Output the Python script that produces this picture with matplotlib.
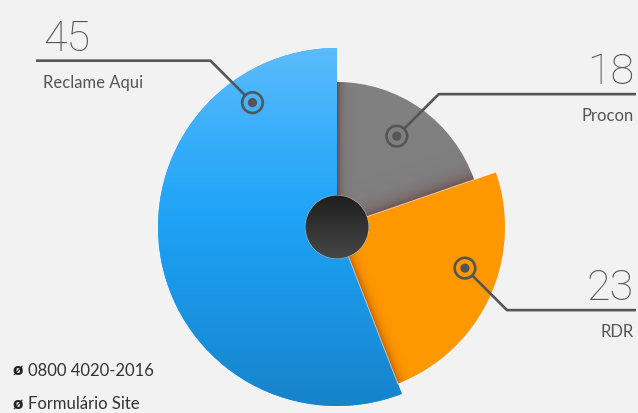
import numpy as np
import matplotlib.pyplot as plt
from matplotlib.patches import Wedge, Circle
from matplotlib.colors import to_rgb

# data (clockwise from 12 o'clock)
labels = ["Procon", "RDR", "Reclame Aqui"]
values = [18, 23, 45]
shares = [19.7, 24.4, 55.9]          # slice sizes, % of circle
footer = ["0800 4020-2016", "Formulário Site"]

# styling
W, H = 638, 413
cx, cy = 337, H - 227
colors = ["#808080", "#ff9800", "#1fa3f8"]
radii = [145, 168, 179]
anchor_frac = [0.47, 0.42, 0.83]      # where the marker sits along the slice
anchor_rad = [0.75, 0.80, 0.84]
ink = "#555555"

plt.rcParams['font.family'] = ['Lato', 'DejaVu Sans']

fig = plt.figure(figsize=(W / 100, H / 100), dpi=100)
fig.patch.set_facecolor("#f2f2f2")
ax = fig.add_axes([0, 0, 1, 1])
ax.set_facecolor("#f2f2f2")


def fill_image(patch, rgba_fn, box, z):
    x0, x1, y0, y1 = box
    X, Y = np.meshgrid(np.arange(x0, x1) + 0.5, np.arange(y0, y1) + 0.5)
    im = ax.imshow(rgba_fn(X, Y), extent=(x0, x1, y0, y1), origin="lower",
                   interpolation="bilinear", aspect="auto", zorder=z)
    im.set_clip_path(patch)


def edge_shade(patch, ang, color, width, alpha, box, z):
    n = np.array([-np.sin(np.radians(ang)), np.cos(np.radians(ang))])

    def fn(X, Y):
        d = np.abs((X - cx) * n[0] + (Y - cy) * n[1])
        out = np.zeros(X.shape + (4,))
        out[..., :3] = to_rgb(color)
        out[..., 3] = alpha * np.exp(-d / width)
        return out
    fill_image(patch, fn, box, z)


def vgrad(stops):
    ys = np.array([H - s[0] for s in stops])[::-1]
    cs = np.array([to_rgb(s[1]) for s in stops])[::-1]

    def fn(X, Y):
        out = np.ones(X.shape + (4,))
        for k in range(3):
            out[..., k] = np.interp(Y, ys, cs[:, k])
        return out
    return fn


start = 90.0
wedges = []
for i, (lab, val, sh) in enumerate(zip(labels, values, shares)):
    span = sh / 100 * 360
    a0, a1 = start, start - span
    w = Wedge((cx, cy), radii[i], a1, a0, facecolor=colors[i], edgecolor="none", zorder=2)
    ax.add_patch(w)
    wedges.append((w, a0, a1))
    start = a1

    # marker and leader
    ma = np.radians(a0 - anchor_frac[i] * span)
    mx = cx + anchor_rad[i] * radii[i] * np.cos(ma)
    my = cy + anchor_rad[i] * radii[i] * np.sin(ma)
    sx = 1 if mx > cx else -1
    sy = 1 if my > cy else -1
    ex, ey = mx + sx * 42, my + sy * 42
    r_ring = 10.3
    ax.plot([mx + sx * r_ring / np.sqrt(2), ex, 636 if sx > 0 else 36],
            [my + sy * r_ring / np.sqrt(2), ey, ey],
            color=ink, lw=1.9, solid_capstyle="butt", zorder=5)
    ax.add_patch(Circle((mx, my), r_ring, fill=False, edgecolor=ink, lw=1.9, zorder=5))
    ax.add_patch(Circle((mx, my), 4.6, facecolor=ink, edgecolor="none", zorder=5))

    tx = 634 if sx > 0 else 43
    ha = "right" if sx > 0 else "left"
    ax.text(tx, ey + 10, str(val), ha=ha, va="baseline", fontsize=31,
            fontweight="light", color=ink, zorder=5, family=["Roboto", "Lato"])
    ax.text(tx, ey - 27, lab, ha=ha, va="baseline", fontsize=12,
            color=ink, zorder=5)

# blue gradient
wb = wedges[2][0]
fill_image(wb, vgrad([(45, "#5dbcfc"), (140, "#36aefa"), (220, "#1ea2f7"),
                      (320, "#1a92e0"), (410, "#1682c9")]),
           (cx - 185, cx + 80, 0, H), 2.1)

# shadows
wg, g0, g1 = wedges[0]
edge_shade(wg, g0, "#6a4040", 4.0, 0.9, (cx, cx + 150, cy - 20, cy + 150), 2.2)
edge_shade(wg, g1, "#6a4040", 7.0, 0.75, (cx, cx + 150, cy - 20, cy + 150), 2.2)
wo, o0, o1 = wedges[1]
edge_shade(wo, o1, "#b85800", 4.0, 0.9, (cx - 10, cx + 175, cy - 175, cy + 70), 2.2)

# thin highlights along the orange edges
for ang in (o0, o1):
    t = np.radians(ang)
    ax.plot([cx + 30 * np.cos(t), cx + radii[1] * np.cos(t)],
            [cy + 30 * np.sin(t), cy + radii[1] * np.sin(t)],
            color="white", lw=0.7, alpha=0.55, zorder=2.3)

# centre disc
cdisc = Circle((cx, cy), 31.5, facecolor="#2b2b2b", edgecolor="#c9d3dc", lw=0.6, zorder=3)
ax.add_patch(cdisc)
fill_image(cdisc, vgrad([(196, "#1f1f1f"), (259, "#474747")]),
           (cx - 33, cx + 33, cy - 33, cy + 33), 3.1)

# footer
for k, txt in enumerate(footer):
    yb = H - 376 - k * 33
    ax.text(12, yb, "ø", fontsize=11, fontweight="bold", color="#222222",
            va="baseline", family=["DejaVu Sans"])
    ax.text(28, yb, txt, fontsize=12, color="#333333", va="baseline")

ax.set_xlim(0, W)
ax.set_ylim(0, H)
ax.axis("off")
fig.savefig("out.png", dpi=100, facecolor=fig.get_facecolor())
